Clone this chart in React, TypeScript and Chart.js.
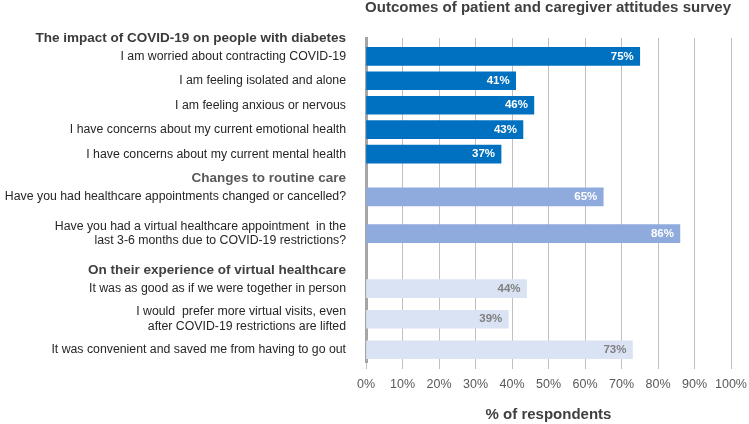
import React, { useEffect, useRef } from "react";
import { Chart, registerables } from "chart.js";

Chart.register(...registerables);

// ---- data ----
const chartTitle = "Outcomes of patient and caregiver attitudes survey";
const axisTitle = "% of respondents";
const sectionTitles = [
  "The impact of COVID-19 on people with diabetes",
  "Changes to routine care",
  "On their experience of virtual healthcare",
];
const itemLabels: (string | string[])[] = [
  "I am worried about contracting COVID-19",
  "I am feeling isolated and alone",
  "I am feeling anxious or nervous",
  "I have concerns about my current emotional health",
  "I have concerns about my current mental health",
  "Have you had healthcare appointments changed or cancelled?",
  ["Have you had a virtual healthcare appointment  in the", "last 3-6 months due to COVID-19 restrictions?"],
  "It was as good as if we were together in person",
  ["I would  prefer more virtual visits, even", "after COVID-19 restrictions are lifted"],
  "It was convenient and saved me from having to go out",
];
const itemValues = [75, 41, 46, 43, 37, 65, 86, 44, 39, 73];
const itemSection = [0, 0, 0, 0, 0, 1, 1, 2, 2, 2];
const xMin = 0;
const xMax = 100;
const xStep = 10;

// ---- layout of category rows (fine-grained slots, spacer rows are blank) ----
const TOTAL_SLOTS = 54;
const headerSlots = [0, 23, 38];
const itemSlots = [3, 7, 11, 15, 19, 26, 32, 41, 46, 51];

// ---- styles ----
const sectionBarColors = ["#0070C0", "#8FAADC", "#DAE3F3"];
const sectionValueColors = ["#FFFFFF", "#FFFFFF", "#7F7F7F"];
const headerColors = ["#3A3A3A", "#595959", "#404040"];
const FONT = '"Liberation Sans", Arial, sans-serif';

const labels: (string | string[])[] = Array(TOTAL_SLOTS).fill("");
const values: (number | null)[] = Array(TOTAL_SLOTS).fill(null);
const slotSection: number[] = Array(TOTAL_SLOTS).fill(0);
const isHeader: boolean[] = Array(TOTAL_SLOTS).fill(false);
headerSlots.forEach((s, i) => {
  labels[s] = sectionTitles[i];
  isHeader[s] = true;
  slotSection[s] = i;
});
itemSlots.forEach((s, i) => {
  labels[s] = itemLabels[i];
  values[s] = itemValues[i];
  slotSection[s] = itemSection[i];
});

const valueLabelPlugin = {
  id: "valueLabels",
  afterDatasetsDraw(chart: any) {
    const ctx = chart.ctx;
    const meta = chart.getDatasetMeta(0);
    const data = chart.data.datasets[0].data;
    meta.data.forEach((bar: any, i: number) => {
      const v = data[i];
      if (v == null) return;
      ctx.save();
      ctx.font = `bold 11.5px ${FONT}`;
      ctx.fillStyle = sectionValueColors[slotSection[i]];
      ctx.textAlign = "right";
      ctx.textBaseline = "middle";
      ctx.fillText(`${v}%`, bar.x - 6, bar.y);
      ctx.restore();
    });
  },
};

export default function App() {
  const ref = useRef<HTMLCanvasElement | null>(null);
  useEffect(() => {
    if (!ref.current) return;
    const chart = new Chart(ref.current, {
      type: "bar",
      data: {
        labels,
        datasets: [
          {
            data: values,
            backgroundColor: slotSection.map((s) => sectionBarColors[s]),
            barThickness: 18,
            borderWidth: 0,
          },
        ],
      },
      plugins: [valueLabelPlugin],
      options: {
        indexAxis: "y",
        responsive: false,
        animation: false,
        devicePixelRatio: 1,
        layout: { padding: { top: 0, right: 18, bottom: 0, left: 0 } },
        plugins: {
          legend: { display: false },
          tooltip: { enabled: false },
          title: {
            display: true,
            text: chartTitle,
            align: "end",
            color: "#404040",
            font: { family: FONT, size: 15, weight: "bold", lineHeight: 1 },
            padding: { top: 0, bottom: 23 },
          },
        },
        scales: {
          x: {
            type: "linear",
            min: xMin,
            max: xMax,
            afterFit: (scale: any) => {
              scale.paddingRight = 18;
              scale.paddingLeft = 0;
            },
            ticks: {
              stepSize: xStep,
              callback: (v: any) => `${v}%`,
              color: "#595959",
              font: { family: FONT, size: 12.5 },
              padding: 8,
              maxRotation: 0,
            },
            grid: { display: true, color: "#BFBFBF", lineWidth: 1, drawTicks: true, tickLength: 7, drawOnChartArea: true },
            border: { display: false },
            title: {
              display: true,
              text: axisTitle,
              color: "#404040",
              font: { family: FONT, size: 15, weight: "bold" },
              padding: { top: 6, bottom: 0 },
            },
          },
          y: {
            type: "category",
            offset: false,
            z: 1,
            afterFit: (scale: any) => {
              scale.width = 366;
            },
            ticks: {
              autoSkip: false,
              padding: 20,
              color: (ctx: any) =>
                isHeader[ctx.index] ? headerColors[slotSection[ctx.index]] : "#262626",
              font: (ctx: any) =>
                isHeader[ctx.index]
                  ? { family: FONT, size: 13.5, weight: "bold", lineHeight: 1.2 }
                  : { family: FONT, size: 12.3, lineHeight: 1.2 },
            },
            grid: { display: false, drawTicks: false },
            border: { display: true, color: "#A6A6A6", width: 3 },
          },
        },
      },
    } as any);
    return () => chart.destroy();
  }, []);
  return (
    <div style={{ position: "absolute", left: 0, top: 0, width: 749, height: 424 }}>
      <canvas ref={ref} width={749} height={424} style={{ width: 749, height: 424 }} />
    </div>
  );
}
